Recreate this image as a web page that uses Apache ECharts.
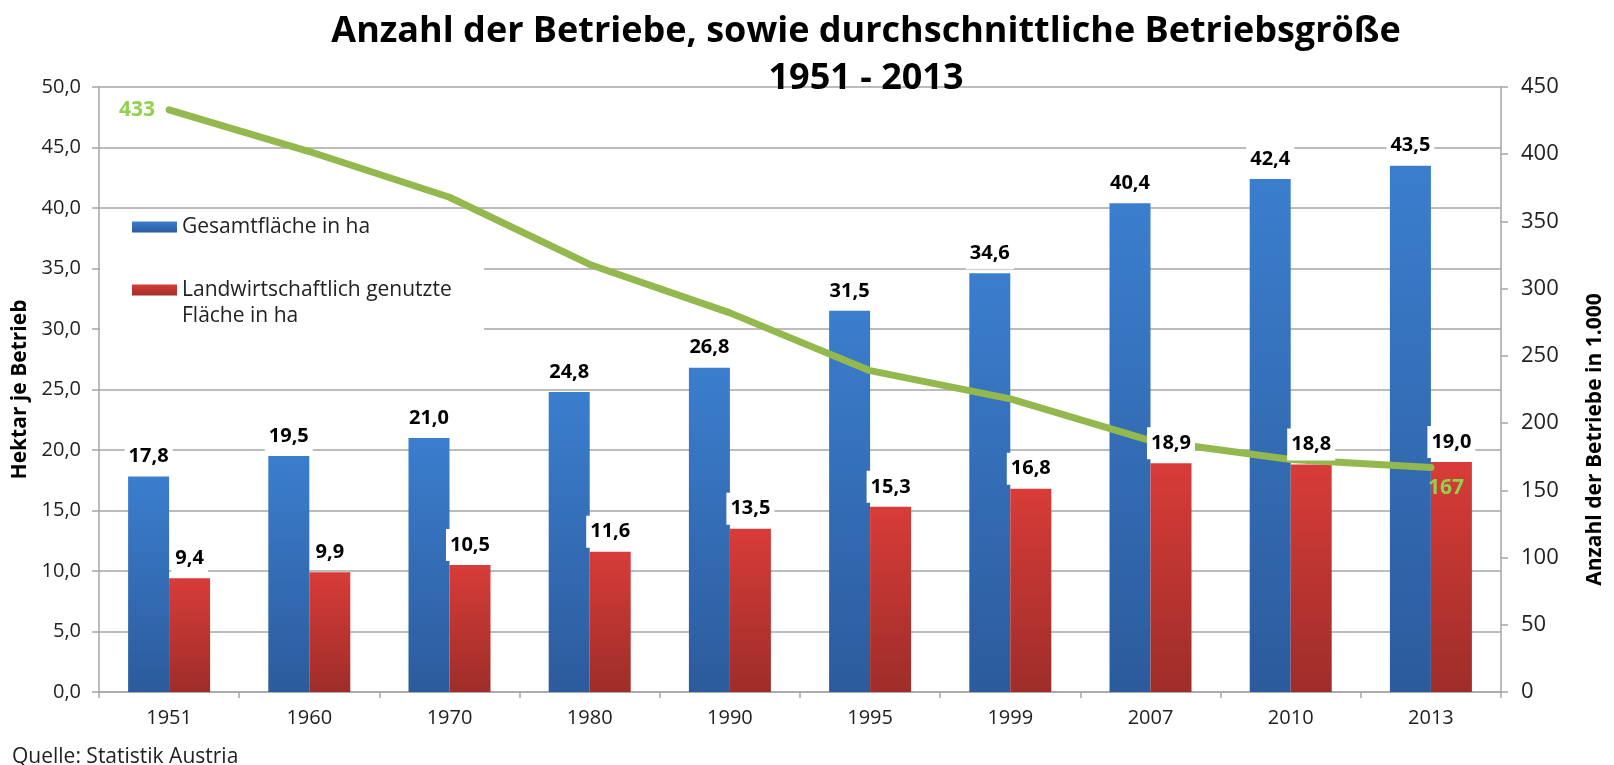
<!DOCTYPE html>
<html>
<head>
<meta charset="utf-8">
<script src="https://cdn.jsdelivr.net/npm/echarts@6/dist/echarts.min.js"></script>
<style>
html,body{margin:0;padding:0;background:#fff;}
#chart{width:1614px;height:765px;}
</style>
</head>
<body>
<div id="chart"></div>
<script>
const years = ['1951','1960','1970','1980','1990','1995','1999','2007','2010','2013'];
const gesamtflaeche = [17.8, 19.5, 21.0, 24.8, 26.8, 31.5, 34.6, 40.4, 42.4, 43.5];
const lwFlaeche = [9.4, 9.9, 10.5, 11.6, 13.5, 15.3, 16.8, 18.9, 18.8, 19.0];
const betriebe = [433, 402, 368, 318, 282, 239, 218, 187, 173, 167];
const leftTicks = {min: 0, max: 50, interval: 5};
const rightTicks = {min: 0, max: 450, interval: 50};

const FONT = '"Open Sans", sans-serif';
const fmt = v => v.toFixed(1).replace('.', ',');

const chart = echarts.init(document.getElementById('chart'));

const barLabel = {
  show: true,
  position: 'top',
  distance: 4,
  formatter: p => fmt(p.value),
  color: '#000',
  fontFamily: FONT,
  fontWeight: 'bold',
  fontSize: 20,
  backgroundColor: '#fff',
  padding: [6, 4, 6, 4]
};

const lastIdx = betriebe.length - 1;
const lineData = betriebe.map((v, i) => {
  if (i === 0) {
    return {value: v, label: {show: true, position: 'left', distance: 14}};
  }
  if (i === lastIdx) {
    return {value: v, label: {show: true, position: 'bottom', distance: 10, offset: [15, 0]}};
  }
  return v;
});

const blueGrad = new echarts.graphic.LinearGradient(0, 0, 0, 1, [
  {offset: 0, color: '#3B7ECE'},
  {offset: 1, color: '#2C5B9C'}
]);
const redGrad = new echarts.graphic.LinearGradient(0, 0, 0, 1, [
  {offset: 0, color: '#D83C38'},
  {offset: 1, color: '#9E2D29'}
]);

const option = {
  backgroundColor: '#fff',
  animation: false,
  title: [
    {
      text: 'Anzahl der Betriebe, sowie durchschnittliche Betriebsgröße\n1951 - 2013',
      left: 866,
      top: 8,
      padding: 0,
      textAlign: 'center',
      textStyle: {fontFamily: FONT, fontWeight: 'bold', fontSize: 36, lineHeight: 47, color: '#000'}
    },
    {
      text: 'Quelle: Statistik Austria',
      left: 12,
      top: 747,
      padding: 0,
      textStyle: {fontFamily: FONT, fontWeight: 'normal', fontSize: 21, color: '#222'}
    }
  ],
  graphic: [
    {type: 'rect', shape: {x: 100, y: 211, width: 384, height: 122}, style: {fill: '#fff'}, z: 1, silent: true}
  ],
  legend: [
    {
      data: ['Gesamtfläche in ha'],
      orient: 'vertical',
      left: 132,
      top: 214,
      padding: 0,
      itemWidth: 45,
      itemHeight: 11,
      icon: 'rect',
      textStyle: {fontFamily: FONT, fontSize: 21, color: '#222', lineHeight: 26}
    },
    {
      data: ['Landwirtschaftlich genutzte\nFläche in ha'],
      orient: 'vertical',
      left: 132,
      top: 251,
      padding: 0,
      itemWidth: 45,
      itemHeight: 11,
      icon: 'rect',
      formatter: name => ' \n' + name,
      textStyle: {fontFamily: FONT, fontSize: 21, color: '#222', lineHeight: 26}
    }
  ],
  grid: {left: 99, right: 111, top: 87, bottom: 73, containLabel: false},
  xAxis: [
    {
      type: 'category',
      data: years,
      boundaryGap: true,
      axisLine: {show: true, lineStyle: {color: '#A6A6A6', width: 1.5}},
      axisTick: {show: true, length: 6, alignWithLabel: false, lineStyle: {color: '#A6A6A6', width: 1.5}},
      axisLabel: {fontFamily: FONT, fontSize: 20, color: '#222', margin: 16}
    },
    {
      type: 'category',
      data: years,
      boundaryGap: true,
      show: false
    }
  ],
  yAxis: [
    {
      type: 'value',
      min: leftTicks.min, max: leftTicks.max, interval: leftTicks.interval,
      name: 'Hektar je Betrieb',
      nameLocation: 'middle',
      nameGap: 66,
      nameTextStyle: {fontFamily: FONT, fontWeight: 'bold', fontSize: 21, color: '#000'},
      axisLine: {show: true, lineStyle: {color: '#A6A6A6', width: 1.5}},
      axisTick: {show: true, length: 7, lineStyle: {color: '#A6A6A6', width: 1.5}},
      axisLabel: {fontFamily: FONT, fontSize: 20, color: '#222', margin: 18, formatter: v => fmt(v)},
      splitLine: {show: true, lineStyle: {color: '#A6A6A6', width: 1.5}}
    },
    {
      type: 'value',
      min: rightTicks.min, max: rightTicks.max, interval: rightTicks.interval,
      position: 'right',
      name: 'Anzahl der Betriebe in 1.000',
      nameLocation: 'middle',
      nameGap: 84,
      nameRotate: 90,
      nameTextStyle: {fontFamily: FONT, fontWeight: 'bold', fontSize: 21, color: '#000', padding: [0, 100, 0, 0]},
      axisLine: {show: true, lineStyle: {color: '#A6A6A6', width: 1.5}},
      axisTick: {show: true, length: 7, lineStyle: {color: '#A6A6A6', width: 1.5}},
      axisLabel: {fontFamily: FONT, fontSize: 22, color: '#222', margin: 20},
      splitLine: {show: false}
    }
  ],
  series: [
    {
      name: 'Gesamtfläche in ha',
      type: 'bar',
      xAxisIndex: 0,
      yAxisIndex: 0,
      data: gesamtflaeche,
      barWidth: 41,
      barGap: '0%',
      z: 2,
      itemStyle: {color: blueGrad}
    },
    {
      name: 'Landwirtschaftlich genutzte\nFläche in ha',
      type: 'bar',
      xAxisIndex: 0,
      yAxisIndex: 0,
      data: lwFlaeche,
      barWidth: 41,
      barGap: '0%',
      z: 2,
      itemStyle: {color: redGrad}
    },
    {
      name: 'Betriebe',
      type: 'line',
      xAxisIndex: 0,
      yAxisIndex: 1,
      data: lineData,
      z: 3,
      symbol: 'circle',
      symbolSize: 0.01,
      showSymbol: true,
      lineStyle: {color: '#93B94E', width: 7, cap: 'round', join: 'round'},
      itemStyle: {color: '#93B94E'},
      label: {show: false, fontFamily: FONT, fontWeight: 'bold', fontSize: 21, color: '#92D050'}
    },
    {
      name: 'Gesamtfläche Werte',
      type: 'bar',
      xAxisIndex: 1,
      yAxisIndex: 0,
      data: gesamtflaeche,
      barWidth: 41,
      barGap: '0%',
      z: 5,
      silent: true,
      itemStyle: {color: 'rgba(0,0,0,0)'},
      label: barLabel
    },
    {
      name: 'LN Werte',
      type: 'bar',
      xAxisIndex: 1,
      yAxisIndex: 0,
      data: lwFlaeche,
      barWidth: 41,
      barGap: '0%',
      z: 5,
      silent: true,
      itemStyle: {color: 'rgba(0,0,0,0)'},
      label: barLabel
    }
  ]
};

chart.setOption(option);
</script>
</body>
</html>
